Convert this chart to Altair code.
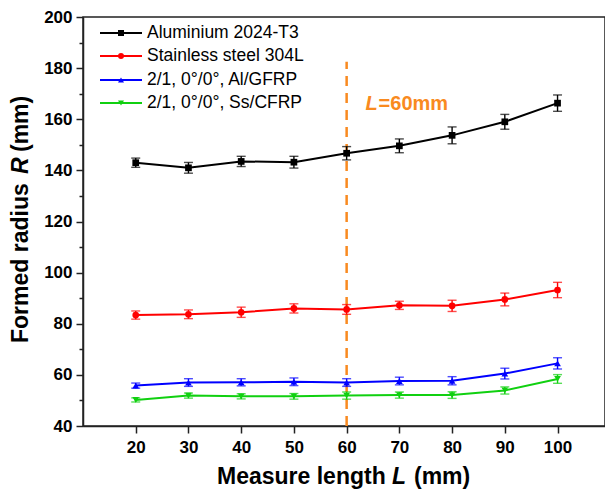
import altair as alt
import pandas as pd

# ---- data ----
L_vals = [20, 30, 40, 50, 60, 70, 80, 90, 100]

series_names = ["Aluminium 2024-T3", "Stainless steel 304L",
                "2/1, 0°/0°, Al/GFRP", "2/1, 0°/0°, Ss/CFRP"]
series_colors = ["#000000", "#FF0000", "#0000FF", "#10D010"]
series_shapes = ["square", "circle", "triangle-up", "triangle-down"]

al_R = [143.0, 141.0, 143.5, 143.2, 146.7, 149.6, 153.7, 159.0, 166.3]
al_err = [1.8, 2.1, 2.0, 2.3, 2.6, 2.7, 3.3, 2.9, 3.2]
ss_R = [83.4, 83.7, 84.5, 86.0, 85.6, 87.2, 87.0, 89.5, 93.2]
ss_err = [1.6, 1.7, 2.0, 1.8, 1.9, 1.6, 2.2, 2.5, 3.0]
gf_R = [55.8, 57.0, 57.1, 57.3, 57.0, 57.6, 57.7, 60.5, 64.5]
gf_err = [1.0, 1.5, 1.4, 1.5, 1.5, 1.5, 1.6, 2.1, 2.2]
cf_R = [50.2, 51.9, 51.6, 51.6, 51.9, 52.1, 52.1, 53.9, 58.4]
cf_err = [0.8, 1.0, 1.0, 1.1, 1.4, 1.2, 1.3, 1.4, 1.7]

all_R = [al_R, ss_R, gf_R, cf_R]
all_err = [al_err, ss_err, gf_err, cf_err]

ref_L = 60
ref_line_top = 182.5
ref_label = ("L", "=60mm")
ref_label_pos = (63.6, 163.6)

x_domain = [10, 109]
y_domain = [40, 200]

# ---- build table ----
rows = []
for name, Rs, errs in zip(series_names, all_R, all_err):
    for l, r, e in zip(L_vals, Rs, errs):
        rows.append({"series": name, "L": l, "R": r, "lo": r - e, "hi": r + e})
df = pd.DataFrame(rows)

FONT = "Liberation Sans"
ORANGE = "#F98A20"

color_scale = alt.Scale(domain=series_names, range=series_colors)
shape_scale = alt.Scale(domain=series_names, range=series_shapes)

x_axis = alt.Axis(values=L_vals, title=None, grid=False, tickSize=7,
                  labelPadding=6, labelFontSize=17, labelFontWeight="bold")
y_axis = alt.Axis(values=list(range(40, 201, 10)), title=None, grid=False,
                  tickSize={"condition": {"test": "datum.value % 20 === 0", "value": 7}, "value": 4},
                  labelExpr="datum.value % 20 === 0 ? datum.label : ''",
                  labelPadding=4, labelFontSize=17, labelFontWeight="bold")

xs = alt.Scale(domain=x_domain, nice=False, zero=False)
ys = alt.Scale(domain=y_domain, nice=False, zero=False)

X = alt.X("L:Q", scale=xs, axis=x_axis)

base = alt.Chart(df)

lines = base.mark_line(strokeWidth=2).encode(
    x=X, y=alt.Y("R:Q", scale=ys, axis=y_axis),
    color=alt.Color("series:N", scale=color_scale, legend=None),
)
errs = base.mark_errorbar(ticks=True, size=9, thickness=1.4).encode(
    x=X, y=alt.Y("lo:Q", scale=ys, axis=y_axis), y2="hi:Q",
    color=alt.Color("series:N", scale=color_scale, legend=None),
)
pts = base.mark_point(filled=True, size=45, opacity=1).encode(
    x=X, y=alt.Y("R:Q", scale=ys, axis=y_axis),
    color=alt.Color("series:N", scale=color_scale, legend=None),
    shape=alt.Shape("series:N", scale=shape_scale, legend=None),
)

one = pd.DataFrame({"k": [0]})
ref_df = pd.DataFrame({"L": [ref_L], "y0": [y_domain[0]], "y1": [ref_line_top],
                       "tx": [ref_label_pos[0]], "ty": [ref_label_pos[1]]})

ref_rule = alt.Chart(ref_df).mark_rule(color=ORANGE, strokeWidth=2.5, strokeDash=[10, 7]).encode(
    x=alt.X("L:Q", scale=xs, axis=x_axis),
    y=alt.Y("y0:Q", scale=ys, axis=y_axis), y2="y1:Q",
)
ref_t1 = alt.Chart(ref_df).mark_text(
    text=ref_label[0], align="left", baseline="alphabetic", font=FONT,
    fontSize=20, fontWeight="bold", fontStyle="italic", color=ORANGE,
).encode(x=alt.X("tx:Q", scale=xs, axis=x_axis), y=alt.Y("ty:Q", scale=ys, axis=y_axis))
ref_t2 = alt.Chart(ref_df).mark_text(
    text=ref_label[1], align="left", baseline="alphabetic", font=FONT, dx=13,
    fontSize=20, fontWeight="bold", color=ORANGE,
).encode(x=alt.X("tx:Q", scale=xs, axis=x_axis), y=alt.Y("ty:Q", scale=ys, axis=y_axis))

# ---- manual legend ----
legend_layers = []
row_y = [16, 39, 63, 86]
for name, c, s, yy in zip(series_names, series_colors, series_shapes, row_y):
    legend_layers.append(alt.Chart(one).mark_rule(color=c, strokeWidth=2).encode(
        x=alt.value(17), x2=alt.value(59), y=alt.value(yy)))
    legend_layers.append(alt.Chart(one).mark_point(shape=s, filled=True, size=36, color=c, opacity=1).encode(
        x=alt.value(38), y=alt.value(yy)))
    legend_layers.append(alt.Chart(one).mark_text(
        text=name, align="left", baseline="middle", font=FONT, fontSize=17.5, color="black").encode(
        x=alt.value(64), y=alt.value(yy)))

# ---- composed axis titles ----
TS = 23
xt_base = 467
x_title = [
    alt.Chart(one).mark_text(text="Measure length", align="left", baseline="alphabetic",
                             font=FONT, fontSize=TS, fontWeight="bold", color="black").encode(
        x=alt.value(134), y=alt.value(xt_base)),
    alt.Chart(one).mark_text(text="L", align="left", baseline="alphabetic", font=FONT, fontSize=TS,
                             fontWeight="bold", fontStyle="italic", color="black").encode(
        x=alt.value(309), y=alt.value(xt_base)),
    alt.Chart(one).mark_text(text="(mm)", align="left", baseline="alphabetic",
                             font=FONT, fontSize=TS, fontWeight="bold", color="black").encode(
        x=alt.value(331), y=alt.value(xt_base)),
]
yt_x = -55
y_title = [
    alt.Chart(one).mark_text(text="Formed radius", align="left", baseline="alphabetic", angle=270,
                             font=FONT, fontSize=TS, fontWeight="bold", color="black").encode(
        x=alt.value(yt_x), y=alt.value(326)),
    alt.Chart(one).mark_text(text="R", align="left", baseline="alphabetic", angle=270, font=FONT,
                             fontSize=TS, fontWeight="bold", fontStyle="italic", color="black").encode(
        x=alt.value(yt_x), y=alt.value(157)),
    alt.Chart(one).mark_text(text="(mm)", align="left", baseline="alphabetic", angle=270,
                             font=FONT, fontSize=TS, fontWeight="bold", color="black").encode(
        x=alt.value(yt_x), y=alt.value(135)),
]

chart = alt.layer(
    ref_rule, lines, errs, pts, ref_t1, ref_t2, *legend_layers, *x_title, *y_title
).properties(
    width=522, height=409,
    autosize=alt.AutoSizeParams(type="none"),
    padding={"left": 75, "top": 9, "right": 0, "bottom": 63},
).configure_view(
    stroke="#222222", strokeWidth=1.5
).configure_axis(
    domainColor="#222222", domainWidth=1.5, tickColor="#222222", tickWidth=1.5,
    labelFont=FONT, labelColor="black",
)

chart.save("out.html", embed_options={"renderer": "svg", "actions": False})
